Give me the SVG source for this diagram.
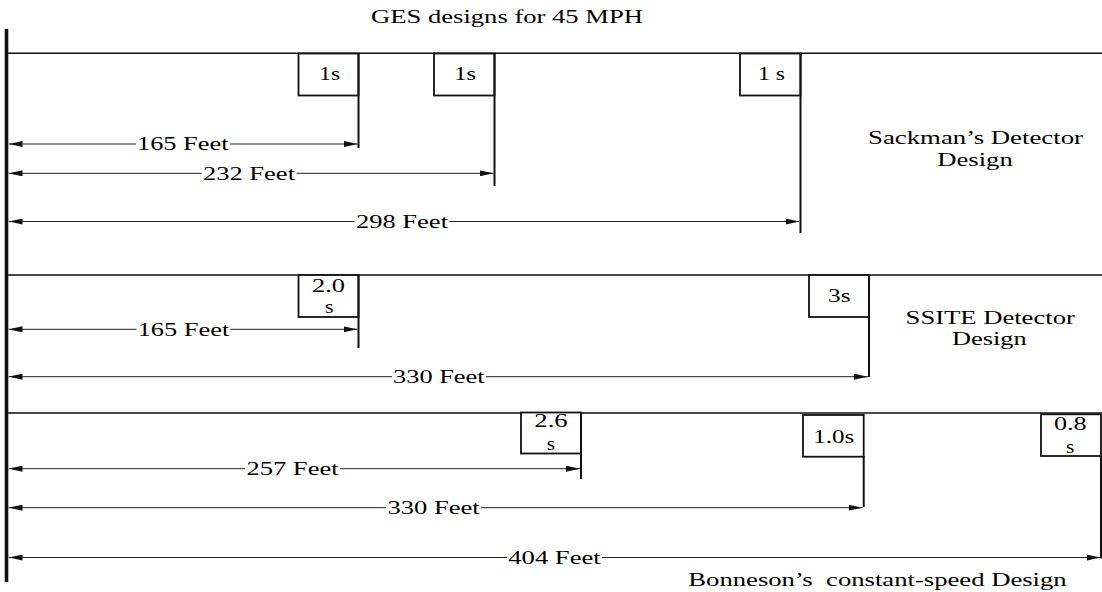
<svg xmlns="http://www.w3.org/2000/svg" width="1102" height="592" viewBox="0 0 1102 592">
<style>
text{font-family:"Liberation Serif","DejaVu Serif",serif;fill:#000}
.t{font-size:18px}
.d{font-size:19px}
.b{font-size:18px}
.sec{stroke:#111;stroke-width:1.4;fill:none}
.box{stroke:#111;stroke-width:1.8;fill:#fff}
.det{stroke:#111;stroke-width:2;fill:none}
.dim{stroke:#222;stroke-width:1;fill:none}
</style>
<defs>
<marker id="ah" markerUnits="userSpaceOnUse" markerWidth="14" markerHeight="6" refX="14" refY="3" orient="auto-start-reverse">
<path d="M0,0 L14,3 L0,6 z" fill="#111"/>
</marker>
</defs>
<rect width="1102" height="592" fill="#fff"/>
<text id="title" class="t" x="371" y="23" textLength="272" lengthAdjust="spacingAndGlyphs">GES designs for 45 MPH</text>
<g id="frame">
<line x1="6.5" y1="29" x2="6.5" y2="582" stroke="#111" stroke-width="3.6"/>
<line class="sec" x1="8" y1="53.3" x2="1102" y2="53.3"/>
<line class="sec" x1="8" y1="275" x2="1102" y2="275"/>
<line class="sec" x1="8" y1="413" x2="1102" y2="413"/>
</g>
<g id="connectors">
<line class="dim" x1="8.5" y1="144" x2="136" y2="144" marker-start="url(#ah)"/>
<line class="dim" x1="230" y1="144" x2="357.5" y2="144" marker-end="url(#ah)"/>
<line class="dim" x1="8.5" y1="173.3" x2="201.5" y2="173.3" marker-start="url(#ah)"/>
<line class="dim" x1="296.5" y1="173.3" x2="493.5" y2="173.3" marker-end="url(#ah)"/>
<line class="dim" x1="8.5" y1="221.5" x2="354.5" y2="221.5" marker-start="url(#ah)"/>
<line class="dim" x1="449.5" y1="221.5" x2="799.5" y2="221.5" marker-end="url(#ah)"/>
<line class="dim" x1="8.5" y1="329.3" x2="136.5" y2="329.3" marker-start="url(#ah)"/>
<line class="dim" x1="230.5" y1="329.3" x2="357.5" y2="329.3" marker-end="url(#ah)"/>
<line class="dim" x1="8.5" y1="376.7" x2="392" y2="376.7" marker-start="url(#ah)"/>
<line class="dim" x1="486" y1="376.7" x2="868" y2="376.7" marker-end="url(#ah)"/>
<line class="dim" x1="8.5" y1="468.7" x2="245" y2="468.7" marker-start="url(#ah)"/>
<line class="dim" x1="340" y1="468.7" x2="580" y2="468.7" marker-end="url(#ah)"/>
<line class="dim" x1="8.5" y1="507.7" x2="386" y2="507.7" marker-start="url(#ah)"/>
<line class="dim" x1="481" y1="507.7" x2="862.5" y2="507.7" marker-end="url(#ah)"/>
<line class="dim" x1="8.5" y1="557.5" x2="507" y2="557.5" marker-start="url(#ah)"/>
<line class="dim" x1="602" y1="557.5" x2="1100.5" y2="557.5" marker-end="url(#ah)"/>
</g>
<g id="dim-labels">
<text class="d" x="137" y="150" textLength="91.5" lengthAdjust="spacingAndGlyphs">165 Feet</text>
<text class="d" x="203" y="179.5" textLength="92" lengthAdjust="spacingAndGlyphs">232 Feet</text>
<text class="d" x="356" y="227.5" textLength="92" lengthAdjust="spacingAndGlyphs">298 Feet</text>
<text class="d" x="137.7" y="335.5" textLength="91.6" lengthAdjust="spacingAndGlyphs">165 Feet</text>
<text class="d" x="393" y="383" textLength="91.6" lengthAdjust="spacingAndGlyphs">330 Feet</text>
<text class="d" x="246.4" y="475" textLength="92.2" lengthAdjust="spacingAndGlyphs">257 Feet</text>
<text class="d" x="387.5" y="514" textLength="92.1" lengthAdjust="spacingAndGlyphs">330 Feet</text>
<text class="d" x="508.3" y="564" textLength="92.4" lengthAdjust="spacingAndGlyphs">404 Feet</text>
</g>
<g id="det-sackman-1">
<rect class="box" x="298.5" y="53.5" width="60" height="42"/>
<line class="det" x1="358.5" y1="53" x2="358.5" y2="148"/>
<text class="b" x="319.3" y="80" textLength="20.7" lengthAdjust="spacingAndGlyphs">1s</text>
</g>
<g id="det-sackman-2">
<rect class="box" x="434" y="53.5" width="60.5" height="42"/>
<line class="det" x1="494.5" y1="53" x2="494.5" y2="186"/>
<text class="b" x="454.3" y="80" textLength="21.7" lengthAdjust="spacingAndGlyphs">1s</text>
</g>
<g id="det-sackman-3">
<rect class="box" x="740" y="53.5" width="60.5" height="42"/>
<line class="det" x1="800.5" y1="53" x2="800.5" y2="233"/>
<text class="b" x="758" y="80" textLength="27" lengthAdjust="spacingAndGlyphs">1 s</text>
</g>
<g id="label-sackman">
<text class="t" x="868" y="144" textLength="215" lengthAdjust="spacingAndGlyphs">Sackman’s Detector</text>
<text class="t" x="937.3" y="166" textLength="75.4" lengthAdjust="spacingAndGlyphs">Design</text>
</g>
<g id="det-ssite-1">
<rect class="box" x="298.5" y="275" width="60" height="42"/>
<line class="det" x1="358.5" y1="275" x2="358.5" y2="348"/>
<text class="b" x="312" y="291.7" textLength="33" lengthAdjust="spacingAndGlyphs">2.0</text>
<text class="b" x="325" y="313.3" textLength="8.5" lengthAdjust="spacingAndGlyphs">s</text>
</g>
<g id="det-ssite-2">
<rect class="box" x="809" y="275" width="60" height="42"/>
<line class="det" x1="869" y1="275" x2="869" y2="377"/>
<text class="b" x="828" y="301.7" textLength="22.5" lengthAdjust="spacingAndGlyphs">3s</text>
</g>
<g id="label-ssite">
<text class="t" x="905.6" y="324" textLength="169.2" lengthAdjust="spacingAndGlyphs">SSITE Detector</text>
<text class="t" x="952" y="345" textLength="74.7" lengthAdjust="spacingAndGlyphs">Design</text>
</g>
<g id="det-bonneson-1">
<rect class="box" x="521" y="412.5" width="60" height="41"/>
<line class="det" x1="581" y1="413" x2="581" y2="479"/>
<text class="b" x="534.3" y="427.3" textLength="33.4" lengthAdjust="spacingAndGlyphs">2.6</text>
<text class="b" x="546.7" y="450" textLength="8.3" lengthAdjust="spacingAndGlyphs">s</text>
</g>
<g id="det-bonneson-2">
<rect class="box" x="803" y="415" width="60.7" height="41.7"/>
<line class="det" x1="863.7" y1="456" x2="863.7" y2="507"/>
<text class="b" x="813.3" y="442.7" textLength="41" lengthAdjust="spacingAndGlyphs">1.0s</text>
</g>
<g id="det-bonneson-3">
<rect class="box" x="1041" y="414.3" width="60" height="41.7"/>
<line class="det" x1="1101" y1="456" x2="1101" y2="558.5"/>
<text class="b" x="1054" y="430" textLength="32.7" lengthAdjust="spacingAndGlyphs">0.8</text>
<text class="b" x="1066" y="452.7" textLength="8.3" lengthAdjust="spacingAndGlyphs">s</text>
</g>
<g id="label-bonneson">
<text class="t" x="688.3" y="586" xml:space="preserve" textLength="378.4" lengthAdjust="spacingAndGlyphs">Bonneson’s  constant-speed Design</text>
</g>
</svg>
